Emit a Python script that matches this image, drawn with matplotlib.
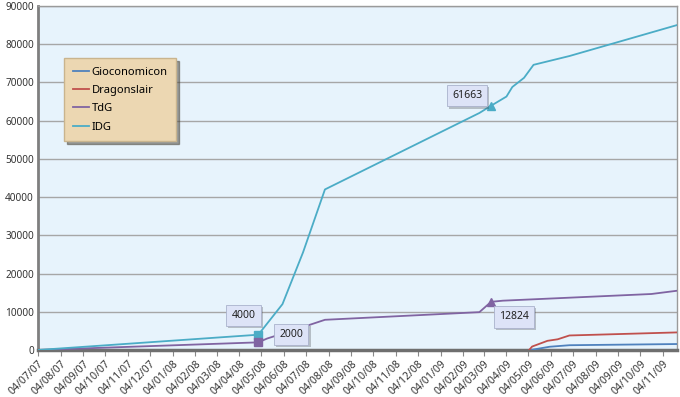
import matplotlib
matplotlib.use('Agg')
import matplotlib.pyplot as plt
import matplotlib.dates as mdates
import matplotlib.patheffects as pe
import pandas as pd

# Series values (dates as day/month/year on the axis).
gioco_dates = ['2009-05-07', '2009-06-02', '2009-06-29', '2009-11-23']
gioco_values = [0, 850, 1250, 1560]

dragon_dates = ['2009-05-05', '2009-05-09', '2009-05-30', '2009-06-13', '2009-06-29', '2009-11-23']
dragon_values = [0, 900, 2400, 2800, 3800, 4600]

tdg_dates = ['2007-07-04', '2008-04-30', '2008-05-12', '2008-06-30', '2008-07-30',
             '2009-02-26', '2009-03-14', '2009-03-30', '2009-10-19', '2009-11-23']
tdg_values = [0, 2000, 3000, 6000, 7900, 9900, 12600, 12900, 14650, 15500]

idg_dates = ['2007-07-04', '2008-04-30', '2008-06-02', '2008-06-30', '2008-07-30', '2009-02-26',
             '2009-03-14', '2009-04-04', '2009-04-12', '2009-04-28', '2009-05-11', '2009-06-29',
             '2009-11-23']
idg_values = [0, 4000, 12000, 25500, 42000, 62000, 63900, 66300, 68800, 71200, 74600, 76900, 85000]

# Labelled points: (series, date, label text)
labels = [
    ('IDG', '2008-04-30', '4000'),
    ('TdG', '2008-04-30', '2000'),
    ('IDG', '2009-03-14', '61663'),
    ('TdG', '2009-03-14', '12824'),
]

plt.rcParams['font.family'] = ['Noto Sans', 'DejaVu Sans']

fig = plt.figure(figsize=(6.8, 3.97), dpi=100)
ax = fig.add_axes([0.0559, 0.1184, 0.9397, 0.8666])
ax.set_facecolor('#e7f3fc')

colors = {'Gioconomicon': '#4f81bd', 'Dragonslair': '#c0504d', 'TdG': '#8064a2', 'IDG': '#4bacc6'}
series = {
    'Gioconomicon': (gioco_dates, gioco_values),
    'Dragonslair': (dragon_dates, dragon_values),
    'TdG': (tdg_dates, tdg_values),
    'IDG': (idg_dates, idg_values),
}

for name, (d, v) in series.items():
    ax.plot(pd.to_datetime(d), v, color=colors[name], lw=1.3, label=name, zorder=3)

# markers + data labels
offsets = [(-15, 19), (33, 8), (-24, 10), (23, -15)]
for (name, d, txt), off in zip(labels, offsets):
    d_list, v_list = series[name]
    val = v_list[d_list.index(d)]
    mk = 's' if d.startswith('2008') else '^'
    ax.plot(pd.to_datetime(d), val, marker=mk, ms=6, color=colors[name], zorder=4)
    t = ax.annotate(txt, (pd.to_datetime(d), val), xytext=off, textcoords='offset pixels',
                    ha='center', va='center', fontsize=7.5, color='#222222', zorder=5,
                    bbox=dict(boxstyle='square,pad=0.5', fc='#dde3f7', ec='#aab2cc', lw=0.6))
    t.get_bbox_patch().set_path_effects([pe.SimplePatchShadow(offset=(1.5, -1.5), alpha=0.3),
                                         pe.Normal()])

ax.set_ylim(0, 90000)
ax.set_yticks(range(0, 90001, 10000))
ax.set_xlim(pd.Timestamp('2007-07-04'), pd.Timestamp('2009-11-23'))
ax.xaxis.set_major_locator(mdates.MonthLocator(bymonthday=4))
ax.xaxis.set_major_formatter(mdates.DateFormatter('%d/%m/%y'))
plt.setp(ax.get_xticklabels(), rotation=45, ha='right', rotation_mode='anchor')

ax.grid(axis='y', color='#a6a6a6', lw=1)
ax.set_axisbelow(True)
ax.tick_params(axis='y', length=0, labelsize=7.2, colors='#333333', pad=3)
ax.tick_params(axis='x', length=4, width=0.8, color='#888888', labelsize=7.5,
               labelcolor='#333333', pad=2)

for side in ['top', 'right']:
    ax.spines[side].set_color('#9a9a9a')
    ax.spines[side].set_linewidth(1)
ax.spines['left'].set_color('#7f7f7f')
ax.spines['left'].set_linewidth(2)
ax.spines['bottom'].set_color('#6f6f6f')
ax.spines['bottom'].set_linewidth(2.5)

leg = ax.legend(loc='upper left', bbox_to_anchor=(0.041, 0.848), fontsize=8,
                frameon=True, fancybox=False, shadow=True, handlelength=1.5,
                handletextpad=0.2, labelspacing=0.66, borderpad=0.75, borderaxespad=0)
leg.get_frame().set_facecolor('#ecd7b2')
leg.get_frame().set_edgecolor('#c9b48e')
leg.get_frame().set_alpha(1)

fig.savefig('out.png', dpi=100)
